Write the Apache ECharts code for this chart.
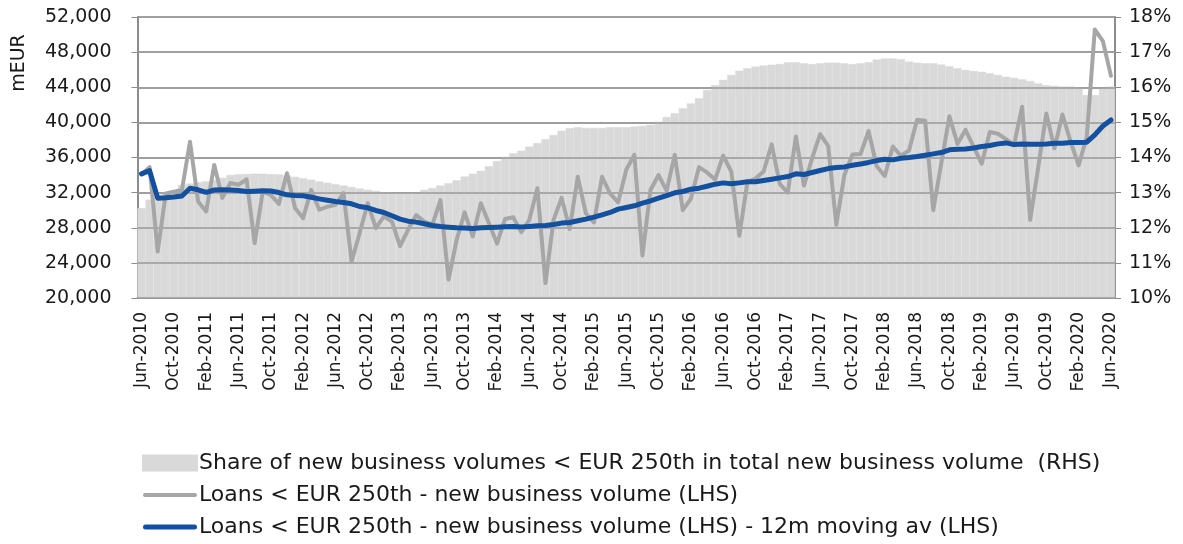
<!DOCTYPE html>
<html>
<head>
<meta charset="utf-8">
<script src="https://cdn.jsdelivr.net/npm/echarts@6/dist/echarts.min.js"></script>
<style>
  html, body { margin: 0; padding: 0; background: #fff; }
  #chart1 { width: 1183px; height: 544px; }
</style>
</head>
<body>
<div id="chart1"></div>
<script>
// monthly, Jun-2010 .. Jun-2020
const Month_Names = ['Jan', 'Feb', 'Mar', 'Apr', 'May', 'Jun', 'Jul', 'Aug', 'Sep', 'Oct', 'Nov', 'Dec'];
const Data_Date = [];
for (let k = 0; k < 121; k++) {
  const m = (5 + k) % 12;
  const y = 2010 + Math.floor((5 + k) / 12);
  Data_Date.push(Month_Names[m] + '-' + y);
}

// share of new business volumes < EUR 250th (%), RHS
const Data_Share = [
  12.56, 12.80, 12.95, 13.00, 13.03, 13.22, 13.26, 13.30, 13.32, 13.36,
  13.42, 13.50, 13.52, 13.53, 13.54, 13.54, 13.53, 13.52, 13.49, 13.45,
  13.41, 13.37, 13.32, 13.28, 13.24, 13.20, 13.16, 13.12, 13.08, 13.05,
  13.01, 13.00, 12.99, 12.99, 13.00, 13.08, 13.13, 13.20, 13.27, 13.35,
  13.46, 13.54, 13.62, 13.75, 13.90, 14.02, 14.12, 14.19, 14.31, 14.41,
  14.52, 14.64, 14.76, 14.83, 14.86, 14.84, 14.84, 14.84, 14.86, 14.86,
  14.86, 14.88, 14.90, 14.93, 15.02, 15.15, 15.26, 15.40, 15.54, 15.69,
  15.92, 16.06, 16.21, 16.35, 16.47, 16.54, 16.59, 16.62, 16.64, 16.66,
  16.71, 16.71, 16.68, 16.66, 16.68, 16.70, 16.70, 16.68, 16.66, 16.68,
  16.71, 16.79, 16.82, 16.82, 16.80, 16.73, 16.70, 16.68, 16.68, 16.65,
  16.60, 16.54, 16.49, 16.46, 16.44, 16.40, 16.35, 16.30, 16.27, 16.23,
  16.18, 16.11, 16.06, 16.04, 16.02, 16.02, 15.99, 15.78, 15.78, 15.97,
  16.02
];

// loans < EUR 250th - new business volume (mEUR), LHS
const Data_Loans = [
  34100, 34900, 25300, 31900, 32100, 32300, 37800, 31000, 29850, 35150,
  31400, 33100, 32900, 33500, 26250, 32100, 31750, 30700, 34200, 30250,
  29100, 32300, 30050, 30400, 30600, 31950, 24150, 27400, 30800, 27950,
  29300, 28700, 25900, 27800, 29450, 28700, 28350, 31150, 22100, 26600,
  29750, 27000, 30800, 28500, 26200, 29000, 29200, 27500, 28900, 32500,
  21700, 28900, 31400, 27850, 33800, 29650, 28600, 33800, 31900, 30900,
  34600, 36300, 24850, 32300, 34000, 32200, 36300, 30000, 31300, 34900,
  34300, 33500, 36200, 34400, 27100, 33200, 33600, 34400, 37500, 33000,
  32000, 38400, 32800, 35900, 38650, 37300, 28350, 34000, 36350, 36400,
  39000, 35000, 33900, 37250, 36200, 36800, 40300, 40200, 30000, 35350,
  40700, 37550, 39150, 37200, 35300, 38900, 38700, 38100, 37400, 41780,
  28900, 34900, 41000, 37050, 40900, 37800, 35100, 38300, 50580, 49250,
  45300
];

// 12m moving average (mEUR), LHS
const Data_LoansAvg = [
  34140, 34500, 31370, 31420, 31500, 31620, 32500, 32320, 32030, 32300,
  32320, 32300, 32240, 32140, 32170, 32200, 32180, 32010, 31750, 31670,
  31640, 31480, 31290, 31140, 30990, 30880, 30730, 30420, 30270, 29970,
  29740, 29360, 28980, 28750, 28640, 28450, 28260, 28150, 28070, 28000,
  27960, 27920, 28000, 28030, 28070, 28100, 28150, 28100, 28150, 28220,
  28260, 28380, 28530, 28600, 28790, 28980, 29210, 29475, 29740, 30120,
  30300, 30500, 30800, 31070, 31370, 31670, 31980, 32130, 32390, 32510,
  32730, 32960, 33110, 33000, 33110, 33230, 33230, 33380, 33530, 33680,
  33830, 34140, 34060, 34290, 34520, 34740, 34860, 34930, 35120, 35270,
  35440, 35650, 35800, 35730, 35920, 35990, 36110, 36260, 36410, 36560,
  36870, 36940, 36980, 37090, 37250, 37360, 37550, 37660, 37470, 37550,
  37510, 37510, 37550, 37620, 37620, 37700, 37700, 37740, 38570, 39590,
  40280
];

const Name_Share = 'Share of new business volumes < EUR 250th in total new business volume  (RHS)';
const Name_Loans = 'Loans < EUR 250th - new business volume (LHS)';
const Name_Avg = 'Loans < EUR 250th - new business volume (LHS) - 12m moving av (LHS)';

function renderChart1() {
  const dom = document.getElementById('chart1');
  const chart = echarts.init(dom);
  const font = 'DejaVu Sans';
  const axisGray = '#8c8c8c';
  const gridGray = '#999999';
  const plot = { left: 137.5, right: 68, top: 17, bottom: 246 };
  const option = {
    animation: false,
    textStyle: { fontFamily: font, color: '#1a1a1a' },
    // grid 0: bars + axes, grid 1: same box, only carries the grid lines above the bars
    grid: [
      Object.assign({}, plot),
      Object.assign({}, plot),
    ],
    legend: {
      orient: 'vertical',
      left: 137,
      top: 447,
      itemWidth: 54,
      itemHeight: 15,
      itemGap: 10,
      textStyle: { fontFamily: font, fontSize: 22, color: '#1a1a1a', padding: [0, 0, 0, -3] },
      data: [
        { name: Name_Share, icon: 'rect' },
        { name: Name_Loans, icon: 'path://M2,0 L52,0 A2,2 0 0 1 52,4 L2,4 A2,2 0 0 1 2,0 Z' },
        { name: Name_Avg, icon: 'path://M2.5,0 L51.5,0 A2.5,2.5 0 0 1 51.5,5 L2.5,5 A2.5,2.5 0 0 1 2.5,0 Z' },
      ],
    },
    graphic: [
      {
        type: 'text',
        x: 19,
        y: 63,
        rotation: Math.PI / 2,
        style: {
          text: 'mEUR',
          fontFamily: font,
          fontSize: 19,
          fill: '#1a1a1a',
          align: 'center',
          verticalAlign: 'middle',
        },
      },
    ],
    xAxis: [
      {
        type: 'category',
        gridIndex: 0,
        data: Data_Date,
        boundaryGap: true,
        axisLine: { lineStyle: { color: axisGray, width: 2 } },
        axisTick: { interval: 0, length: 6, lineStyle: { color: axisGray, width: 1 } },
        axisLabel: {
          interval: 3,
          rotate: 90,
          margin: 14,
          fontFamily: font,
          fontSize: 17,
          color: '#1a1a1a',
        },
      },
      {
        type: 'category',
        gridIndex: 1,
        data: Data_Date,
        boundaryGap: true,
        axisLine: { show: false },
        axisTick: { show: false },
        axisLabel: { show: false },
        splitLine: { show: false },
      }
    ],
    yAxis: [
      {
        type: 'value',
        gridIndex: 0,
        min: 20000,
        max: 52000,
        interval: 4000,
        axisLine: { show: true, lineStyle: { color: axisGray, width: 2 } },
        axisTick: { show: true, length: 6, lineStyle: { color: axisGray } },
        splitLine: { show: true, lineStyle: { color: gridGray, width: 1.6 } },
        axisLabel: {
          margin: 26,
          fontFamily: font,
          fontSize: 19,
          color: '#1a1a1a',
          formatter: (v) => v.toLocaleString('en-US'),
        },
      },
      {
        type: 'value',
        gridIndex: 0,
        min: 10,
        max: 18,
        interval: 1,
        position: 'right',
        axisLine: { show: true, lineStyle: { color: axisGray, width: 2 } },
        axisTick: { show: true, length: 6, lineStyle: { color: axisGray } },
        splitLine: { show: false },
        axisLabel: {
          margin: 14,
          fontFamily: font,
          fontSize: 19,
          color: '#1a1a1a',
          formatter: '{value}%',
        },
      },
      {
        type: 'value',
        gridIndex: 1,
        min: 20000,
        max: 52000,
        interval: 4000,
        zlevel: 1,
        axisLine: { show: false },
        axisTick: { show: false },
        axisLabel: { show: false },
        splitLine: { show: true, lineStyle: { color: gridGray, width: 1.6 } },
      }
    ],
    series: [
      {
        name: Name_Share,
        type: 'bar',
        xAxisIndex: 0,
        yAxisIndex: 1,
        barCategoryGap: '0%',
        zlevel: 0,
        itemStyle: { color: '#d9d9d9', borderColor: '#d9d9d9', borderWidth: 0.5 },
        data: Data_Share,
      },
      {
        name: Name_Loans,
        type: 'line',
        xAxisIndex: 1,
        yAxisIndex: 2,
        symbol: 'none',
        zlevel: 2,
        z: 2,
        itemStyle: { color: '#a6a6a6' },
        lineStyle: { color: '#a6a6a6', width: 4, cap: 'round', join: 'round' },
        data: Data_Loans,
      },
      {
        name: Name_Avg,
        type: 'line',
        xAxisIndex: 1,
        yAxisIndex: 2,
        symbol: 'none',
        zlevel: 2,
        z: 3,
        itemStyle: { color: '#13509f' },
        lineStyle: { color: '#13509f', width: 5, cap: 'round', join: 'round' },
        data: Data_LoansAvg,
      },
    ]
  };
  chart.setOption(option, true);
}

renderChart1();
</script>
</body>
</html>
